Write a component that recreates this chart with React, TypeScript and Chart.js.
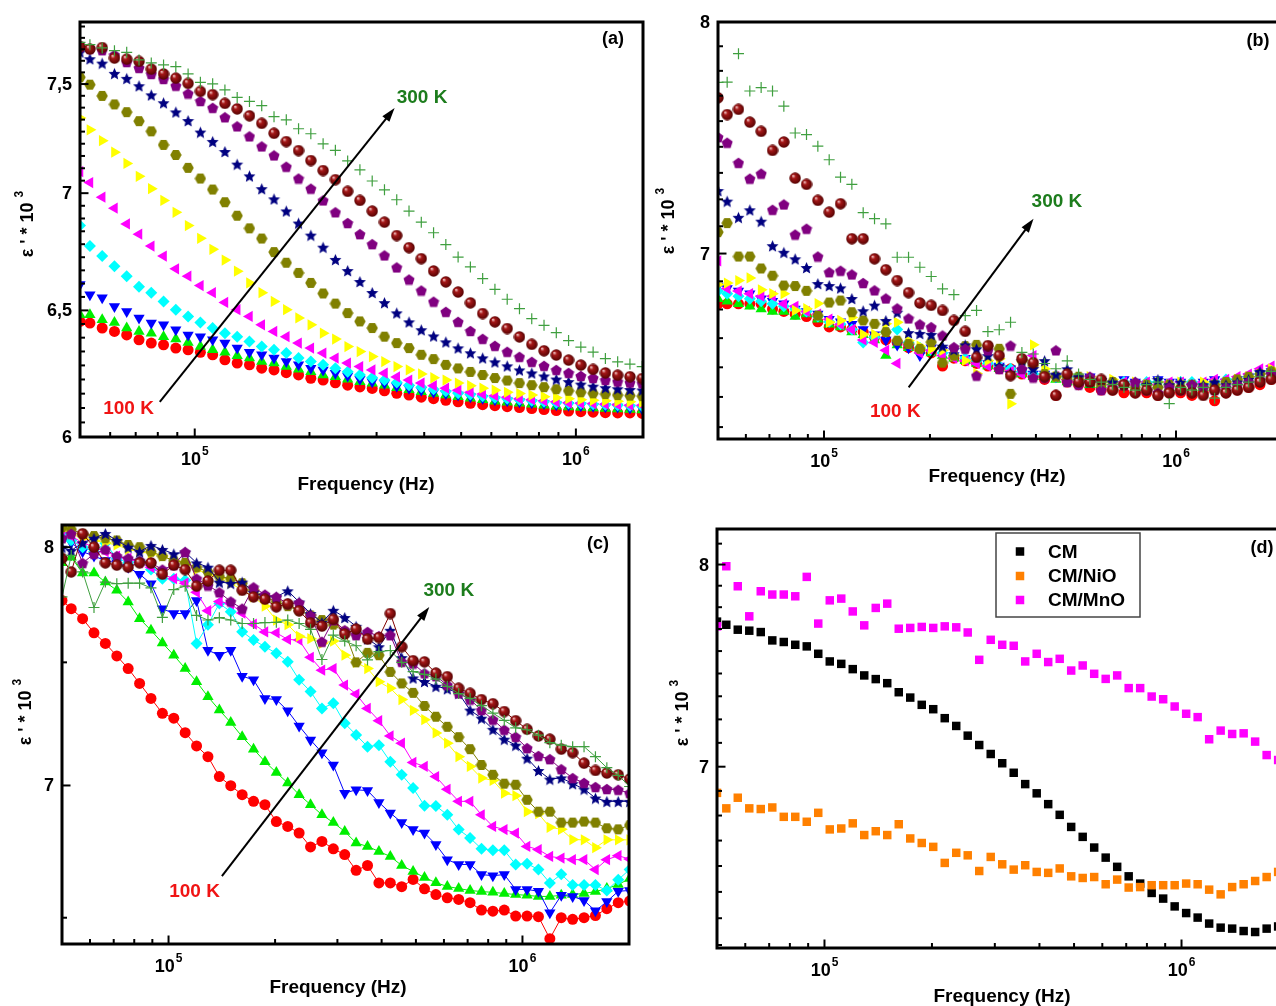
import React, { useEffect, useRef } from 'react';
import { Chart, registerables } from 'chart.js';

Chart.register(...registerables);

// ---------------- data ----------------
const FREQ = [50000, 53090, 57170, 61570, 66300, 71420, 76910, 82830, 89200, 96070,
  103470, 111430, 120000, 129230, 139180, 149890, 161440, 173860, 187240, 201650,
  217170, 233880, 251890, 271270, 292150, 314640, 338840, 364920, 393010, 423260,
  455840, 490900, 528690, 569390, 613210, 660400, 711230, 765970, 824920, 888420,
  956780, 1030400, 1109700, 1195100, 1287100, 1386200, 1492800, 1607700, 1731500, 1864700,
  2008200];

const TEMPS = ['100 K', '120 K', '140 K', '160 K', '180 K', '200 K', '220 K', '240 K', '260 K', '280 K', '300 K'];
const SAMPLES = ['CM', 'CM/NiO', 'CM/MnO'];

// panel (a)
const A100 = [6.455, 6.448, 6.428, 6.414, 6.400, 6.380, 6.367, 6.360, 6.347, 6.340, 6.330, 6.320, 6.300, 6.287, 6.280, 6.267, 6.260, 6.249, 6.240, 6.227, 6.220, 6.209, 6.200, 6.193, 6.187, 6.178, 6.168, 6.161, 6.153, 6.147, 6.141, 6.135, 6.129, 6.124, 6.120, 6.116, 6.113, 6.109, 6.105, 6.101, 6.099, 6.097, 6.095, 6.093, 6.092, 6.092, 6.090];
const A120 = [6.482, 6.482, 6.462, 6.450, 6.428, 6.414, 6.407, 6.393, 6.383, 6.369, 6.353, 6.340, 6.330, 6.316, 6.307, 6.293, 6.287, 6.273, 6.263, 6.253, 6.240, 6.233, 6.223, 6.213, 6.207, 6.200, 6.190, 6.182, 6.174, 6.167, 6.161, 6.155, 6.149, 6.143, 6.137, 6.133, 6.129, 6.126, 6.122, 6.118, 6.115, 6.113, 6.111, 6.109, 6.107, 6.105, 6.103];
const A140 = [6.607, 6.565, 6.552, 6.516, 6.495, 6.469, 6.448, 6.441, 6.421, 6.400, 6.393, 6.380, 6.367, 6.347, 6.330, 6.320, 6.307, 6.293, 6.280, 6.267, 6.260, 6.247, 6.236, 6.223, 6.213, 6.207, 6.196, 6.188, 6.180, 6.172, 6.167, 6.161, 6.155, 6.149, 6.143, 6.139, 6.135, 6.131, 6.128, 6.124, 6.122, 6.120, 6.118, 6.116, 6.115, 6.111, 6.107];
const A160 = [6.858, 6.770, 6.727, 6.684, 6.642, 6.598, 6.573, 6.537, 6.503, 6.475, 6.450, 6.428, 6.407, 6.393, 6.373, 6.353, 6.340, 6.327, 6.307, 6.293, 6.280, 6.267, 6.253, 6.240, 6.229, 6.220, 6.210, 6.200, 6.192, 6.184, 6.176, 6.168, 6.163, 6.157, 6.151, 6.147, 6.143, 6.139, 6.135, 6.131, 6.129, 6.128, 6.126, 6.124, 6.122, 6.120, 6.118];
const A180 = [7.096, 7.047, 6.982, 6.934, 6.865, 6.821, 6.770, 6.727, 6.673, 6.642, 6.603, 6.573, 6.533, 6.503, 6.475, 6.441, 6.414, 6.393, 6.367, 6.347, 6.327, 6.307, 6.287, 6.273, 6.260, 6.247, 6.232, 6.220, 6.208, 6.198, 6.188, 6.180, 6.172, 6.165, 6.159, 6.153, 6.147, 6.143, 6.139, 6.135, 6.131, 6.129, 6.128, 6.126, 6.124, 6.122, 6.122];
const A200 = [7.341, 7.286, 7.236, 7.184, 7.133, 7.075, 7.020, 6.968, 6.916, 6.858, 6.803, 6.756, 6.710, 6.663, 6.614, 6.573, 6.537, 6.503, 6.469, 6.441, 6.407, 6.383, 6.353, 6.333, 6.313, 6.293, 6.273, 6.260, 6.244, 6.229, 6.220, 6.208, 6.198, 6.188, 6.180, 6.172, 6.167, 6.161, 6.155, 6.151, 6.147, 6.143, 6.141, 6.139, 6.137, 6.135, 6.133];
const A220 = [7.532, 7.497, 7.444, 7.404, 7.368, 7.326, 7.279, 7.217, 7.171, 7.113, 7.065, 7.016, 6.960, 6.901, 6.846, 6.802, 6.744, 6.699, 6.656, 6.614, 6.570, 6.528, 6.489, 6.455, 6.428, 6.393, 6.367, 6.347, 6.320, 6.303, 6.280, 6.266, 6.252, 6.240, 6.228, 6.218, 6.208, 6.200, 6.192, 6.184, 6.178, 6.172, 6.168, 6.165, 6.161, 6.159, 6.157];
const A240 = [7.654, 7.621, 7.600, 7.551, 7.527, 7.492, 7.449, 7.412, 7.369, 7.329, 7.276, 7.233, 7.187, 7.130, 7.077, 7.020, 6.975, 6.922, 6.869, 6.817, 6.765, 6.713, 6.666, 6.620, 6.574, 6.532, 6.490, 6.453, 6.421, 6.396, 6.372, 6.348, 6.328, 6.308, 6.292, 6.276, 6.260, 6.248, 6.236, 6.224, 6.214, 6.204, 6.196, 6.190, 6.186, 6.183, 6.181];
const A260 = [7.678, 7.670, 7.662, 7.639, 7.605, 7.577, 7.548, 7.524, 7.492, 7.455, 7.420, 7.388, 7.344, 7.302, 7.256, 7.210, 7.169, 7.118, 7.065, 7.020, 6.968, 6.916, 6.869, 6.821, 6.778, 6.730, 6.679, 6.628, 6.582, 6.536, 6.494, 6.453, 6.416, 6.384, 6.356, 6.332, 6.312, 6.292, 6.276, 6.260, 6.248, 6.236, 6.228, 6.220, 6.214, 6.210, 6.207];
const A280 = [7.680, 7.668, 7.675, 7.624, 7.619, 7.608, 7.571, 7.548, 7.528, 7.503, 7.465, 7.450, 7.409, 7.383, 7.351, 7.316, 7.270, 7.232, 7.191, 7.146, 7.101, 7.060, 7.008, 6.968, 6.921, 6.873, 6.815, 6.763, 6.716, 6.664, 6.618, 6.576, 6.531, 6.487, 6.453, 6.426, 6.392, 6.362, 6.336, 6.319, 6.299, 6.279, 6.262, 6.248, 6.239, 6.233, 6.226];
const A300 = [7.700, 7.689, 7.673, 7.660, 7.652, 7.615, 7.601, 7.591, 7.583, 7.548, 7.508, 7.501, 7.472, 7.437, 7.418, 7.398, 7.347, 7.332, 7.291, 7.268, 7.222, 7.192, 7.144, 7.104, 7.054, 7.015, 6.971, 6.921, 6.873, 6.827, 6.776, 6.723, 6.681, 6.632, 6.587, 6.546, 6.507, 6.466, 6.439, 6.409, 6.377, 6.351, 6.331, 6.305, 6.292, 6.283, 6.273];

// panel (b)
const B100 = [6.80, 6.80, 6.80, 6.80, 6.80, 6.78, 6.77, 6.76, 6.75, 6.73, 6.71, 6.71, 6.70, 6.69, 6.67, 6.66, 6.65, 6.63, 6.62, 6.61, 6.56, 6.59, 6.58, 6.57, 6.56, 6.55, 6.55, 6.53, 6.52, 6.51, 6.45, 6.50, 6.49, 6.48, 6.47, 6.47, 6.46, 6.46, 6.46, 6.45, 6.46, 6.46, 6.45, 6.46, 6.43, 6.46, 6.47, 6.48, 6.49, 6.51, 6.52];
const B120 = [6.82, 6.81, 6.80, 6.79, 6.78, 6.77, 6.77, 6.75, 6.76, 6.74, 6.72, 6.71, 6.69, 6.68, 6.66, 6.60, 6.64, 6.63, 6.62, 6.61, 6.60, 6.59, 6.58, 6.57, 6.56, 6.55, 6.54, 6.53, 6.52, 6.52, 6.51, 6.50, 6.50, 6.49, 6.49, 6.48, 6.49, 6.48, 6.48, 6.49, 6.48, 6.49, 6.48, 6.48, 6.49, 6.49, 6.50, 6.51, 6.52, 6.53, 6.54];
const B140 = [6.87, 6.86, 6.85, 6.84, 6.82, 6.81, 6.80, 6.78, 6.77, 6.76, 6.74, 6.73, 6.72, 6.70, 6.68, 6.66, 6.64, 6.63, 6.60, 6.63, 6.62, 6.60, 6.59, 6.58, 6.57, 6.56, 6.55, 6.54, 6.53, 6.53, 6.52, 6.51, 6.51, 6.52, 6.50, 6.49, 6.51, 6.50, 6.49, 6.51, 6.50, 6.50, 6.49, 6.50, 6.51, 6.50, 6.51, 6.52, 6.53, 6.54, 6.55];
const B160 = [6.85, 6.84, 6.83, 6.82, 6.81, 6.80, 6.79, 6.78, 6.77, 6.75, 6.73, 6.72, 6.70, 6.65, 6.67, 6.69, 6.70, 6.65, 6.63, 6.62, 6.61, 6.60, 6.59, 6.58, 6.57, 6.56, 6.55, 6.54, 6.53, 6.53, 6.52, 6.52, 6.51, 6.51, 6.50, 6.50, 6.50, 6.49, 6.50, 6.50, 6.49, 6.50, 6.50, 6.49, 6.50, 6.51, 6.51, 6.52, 6.53, 6.54, 6.55];
const B180 = [6.97, 6.86, 6.85, 6.84, 6.83, 6.83, 6.80, 6.79, 6.77, 6.76, 6.74, 6.72, 6.70, 6.66, 6.65, 6.62, 6.57, 6.64, 6.61, 6.62, 6.60, 6.59, 6.58, 6.57, 6.56, 6.55, 6.54, 6.53, 6.60, 6.52, 6.52, 6.51, 6.50, 6.51, 6.50, 6.49, 6.50, 6.49, 6.50, 6.49, 6.50, 6.50, 6.49, 6.50, 6.51, 6.51, 6.52, 6.53, 6.55, 6.56, 6.58];
const B200 = [6.876, 6.882, 6.892, 6.902, 6.855, 6.840, 6.840, 6.774, 6.781, 6.801, 6.728, 6.735, 6.747, 6.681, 6.681, 6.722, 6.728, 6.657, 6.636, 6.626, 6.620, 6.600, 6.581, 6.532, 6.581, 6.588, 6.419, 6.581, 6.641, 6.55, 6.52, 6.53, 6.51, 6.52, 6.50, 6.51, 6.49, 6.50, 6.49, 6.50, 6.49, 6.50, 6.49, 6.50, 6.49, 6.50, 6.51, 6.52, 6.53, 6.55, 6.56];
const B220 = [7.087, 7.124, 6.988, 6.988, 6.940, 6.911, 6.872, 6.870, 6.851, 6.754, 6.805, 6.813, 6.767, 6.735, 6.722, 6.690, 6.657, 6.644, 6.626, 6.651, 6.573, 6.600, 6.636, 6.641, 6.636, 6.626, 6.456, 6.581, 6.562, 6.53, 6.52, 6.51, 6.52, 6.50, 6.49, 6.50, 6.49, 6.48, 6.49, 6.48, 6.49, 6.48, 6.49, 6.48, 6.49, 6.50, 6.51, 6.52, 6.53, 6.54, 6.56];
const B240 = [7.259, 7.215, 7.148, 7.179, 7.132, 7.032, 7.005, 6.979, 6.944, 6.880, 6.872, 6.863, 6.821, 6.773, 6.795, 6.735, 6.767, 6.688, 6.685, 6.681, 6.636, 6.623, 6.641, 6.626, 6.600, 6.562, 6.535, 6.581, 6.551, 6.581, 6.53, 6.55, 6.52, 6.50, 6.51, 6.50, 6.49, 6.50, 6.49, 6.51, 6.49, 6.50, 6.49, 6.49, 6.50, 6.49, 6.50, 6.51, 6.54, 6.53, 6.55];
const B260 = [7.486, 7.462, 7.376, 7.309, 7.330, 7.179, 7.201, 7.077, 7.101, 6.988, 6.925, 6.931, 6.916, 6.882, 6.853, 6.821, 6.782, 6.743, 6.720, 6.709, 6.677, 6.632, 6.626, 6.524, 6.620, 6.549, 6.638, 6.549, 6.517, 6.517, 6.620, 6.50, 6.49, 6.52, 6.47, 6.48, 6.49, 6.50, 6.47, 6.46, 6.48, 6.47, 6.49, 6.48, 6.47, 6.48, 6.49, 6.50, 6.51, 6.53, 6.55];
const B280 = [7.658, 7.584, 7.607, 7.551, 7.511, 7.429, 7.465, 7.311, 7.285, 7.218, 7.169, 7.204, 7.060, 7.060, 6.979, 6.935, 6.892, 6.844, 6.803, 6.794, 6.774, 6.735, 6.693, 6.593, 6.638, 6.600, 6.524, 6.588, 6.573, 6.52, 6.45, 6.53, 6.50, 6.50, 6.51, 6.47, 6.49, 6.46, 6.47, 6.45, 6.46, 6.47, 6.46, 6.45, 6.47, 6.46, 6.47, 6.48, 6.50, 6.51, 6.53];
const B300 = [7.726, 7.727, 7.855, 7.688, 7.703, 7.688, 7.621, 7.504, 7.497, 7.447, 7.389, 7.315, 7.285, 7.167, 7.142, 7.121, 6.985, 6.985, 6.945, 6.908, 6.859, 6.836, 6.754, 6.774, 6.692, 6.699, 6.728, 6.612, 6.606, 6.57, 6.55, 6.58, 6.53, 6.51, 6.50, 6.49, 6.48, 6.47, 6.49, 6.50, 6.42, 6.48, 6.47, 6.48, 6.44, 6.48, 6.49, 6.50, 6.52, 6.54, 6.55];

// panel (c)
const C100 = [7.765, 7.729, 7.686, 7.625, 7.580, 7.527, 7.474, 7.412, 7.350, 7.289, 7.269, 7.210, 7.157, 7.114, 7.035, 6.999, 6.964, 6.938, 6.925, 6.860, 6.841, 6.816, 6.763, 6.784, 6.756, 6.734, 6.675, 6.693, 6.628, 6.628, 6.614, 6.641, 6.606, 6.585, 6.573, 6.567, 6.555, 6.528, 6.524, 6.528, 6.506, 6.506, 6.504, 6.424, 6.500, 6.494, 6.500, 6.508, 6.533, 6.555, 6.561];
const C120 = [7.930, 7.955, 7.885, 7.885, 7.845, 7.809, 7.758, 7.686, 7.636, 7.582, 7.530, 7.474, 7.419, 7.357, 7.302, 7.251, 7.194, 7.144, 7.094, 7.051, 7.010, 6.964, 6.925, 6.886, 6.856, 6.822, 6.778, 6.765, 6.746, 6.727, 6.693, 6.671, 6.648, 6.629, 6.615, 6.607, 6.600, 6.596, 6.593, 6.589, 6.585, 6.582, 6.578, 6.578, 6.582, 6.585, 6.589, 6.596, 6.607, 6.622, 6.644];
const C140 = [8.050, 8.020, 7.980, 7.960, 7.940, 7.930, 7.910, 7.880, 7.838, 7.729, 7.708, 7.708, 7.765, 7.551, 7.530, 7.551, 7.442, 7.427, 7.350, 7.345, 7.299, 7.237, 7.181, 7.130, 7.081, 6.970, 6.983, 6.980, 6.934, 6.893, 6.856, 6.829, 6.816, 6.772, 6.715, 6.697, 6.697, 6.659, 6.655, 6.659, 6.604, 6.604, 6.597, 6.518, 6.582, 6.578, 6.563, 6.525, 6.559, 6.597, 6.600];
const C160 = [8.060, 8.030, 8.000, 7.980, 8.018, 7.950, 7.930, 7.940, 7.900, 7.860, 7.860, 7.853, 7.580, 7.660, 7.751, 7.716, 7.630, 7.594, 7.566, 7.538, 7.502, 7.427, 7.378, 7.309, 7.330, 7.248, 7.201, 7.154, 7.160, 7.094, 7.042, 6.990, 6.921, 6.920, 6.886, 6.829, 6.797, 6.756, 6.750, 6.750, 6.697, 6.700, 6.678, 6.628, 6.660, 6.620, 6.620, 6.620, 6.600, 6.640, 6.678];
const C180 = [8.080, 8.050, 8.020, 8.000, 7.980, 7.960, 7.950, 7.930, 7.910, 7.880, 7.860, 7.840, 7.800, 7.720, 7.760, 7.750, 7.710, 7.662, 7.629, 7.625, 7.597, 7.594, 7.521, 7.467, 7.474, 7.405, 7.368, 7.309, 7.259, 7.197, 7.168, 7.091, 7.075, 7.035, 6.985, 6.938, 6.938, 6.886, 6.841, 6.829, 6.816, 6.765, 6.753, 6.727, 6.721, 6.715, 6.715, 6.678, 6.715, 6.730, 6.717];
const C200 = [8.080, 8.060, 8.040, 8.030, 8.020, 8.010, 7.990, 7.980, 7.970, 7.960, 7.940, 7.930, 7.900, 7.880, 7.860, 7.840, 7.810, 7.780, 7.740, 7.680, 7.660, 7.610, 7.600, 7.580, 7.590, 7.530, 7.500, 7.474, 7.419, 7.392, 7.345, 7.301, 7.263, 7.209, 7.168, 7.114, 7.075, 7.029, 7.020, 6.970, 6.960, 6.898, 6.890, 6.838, 6.830, 6.791, 6.790, 6.760, 6.790, 6.790, 6.790];
const C220 = [8.090, 8.080, 8.060, 8.050, 8.040, 8.030, 8.010, 8.000, 7.980, 7.960, 7.940, 7.930, 7.910, 7.890, 7.870, 7.860, 7.840, 7.810, 7.780, 7.760, 7.740, 7.720, 7.700, 7.680, 7.660, 7.630, 7.500, 7.540, 7.530, 7.460, 7.412, 7.373, 7.319, 7.275, 7.234, 7.192, 7.144, 7.081, 7.042, 7.007, 7.003, 6.944, 6.898, 6.898, 6.856, 6.856, 6.860, 6.856, 6.834, 6.830, 6.846];
const C240 = [8.000, 7.985, 8.020, 8.040, 8.062, 8.030, 8.000, 7.980, 8.008, 7.990, 7.970, 7.978, 7.930, 7.911, 7.845, 7.840, 7.845, 7.800, 7.781, 7.780, 7.807, 7.758, 7.708, 7.670, 7.722, 7.691, 7.653, 7.600, 7.566, 7.636, 7.520, 7.435, 7.420, 7.400, 7.390, 7.371, 7.302, 7.269, 7.224, 7.184, 7.160, 7.108, 7.059, 7.025, 7.030, 7.007, 6.986, 6.951, 6.938, 6.938, 6.938];
const C260 = [8.040, 8.060, 7.929, 7.970, 7.990, 7.960, 7.950, 7.940, 7.930, 7.900, 7.920, 7.978, 7.860, 7.830, 7.800, 7.760, 7.729, 7.822, 7.790, 7.780, 7.751, 7.754, 7.699, 7.587, 7.679, 7.636, 7.615, 7.629, 7.611, 7.615, 7.502, 7.495, 7.454, 7.442, 7.405, 7.371, 7.345, 7.302, 7.263, 7.222, 7.193, 7.148, 7.117, 7.104, 7.064, 7.029, 7.010, 6.994, 6.986, 6.983, 6.970];
const C280 = [7.950, 7.890, 8.060, 8.000, 7.930, 7.920, 7.911, 7.930, 7.930, 7.880, 7.920, 7.900, 7.827, 7.850, 7.897, 7.897, 7.809, 7.780, 7.770, 7.737, 7.750, 7.720, 7.668, 7.654, 7.683, 7.620, 7.641, 7.598, 7.605, 7.708, 7.566, 7.507, 7.502, 7.455, 7.440, 7.392, 7.371, 7.345, 7.328, 7.296, 7.259, 7.224, 7.197, 7.184, 7.144, 7.130, 7.088, 7.059, 7.049, 7.042, 7.025];
const C300 = [7.780, 7.963, 7.890, 7.734, 7.845, 7.838, 7.840, 7.840, 7.820, 7.691, 7.812, 7.827, 7.700, 7.680, 7.690, 7.680, 7.665, 7.665, 7.669, 7.670, 7.680, 7.665, 7.640, 7.512, 7.615, 7.590, 7.570, 7.510, 7.545, 7.550, 7.500, 7.461, 7.450, 7.430, 7.400, 7.370, 7.350, 7.320, 7.290, 7.260, 7.230, 7.222, 7.200, 7.170, 7.160, 7.154, 7.154, 7.114, 7.070, 7.040, 6.996];

// panel (d)
const D_CM = [7.704, 7.688, 7.663, 7.658, 7.651, 7.609, 7.601, 7.587, 7.579, 7.542, 7.504, 7.492, 7.466, 7.435, 7.417, 7.397, 7.353, 7.327, 7.292, 7.271, 7.228, 7.191, 7.145, 7.101, 7.059, 7.016, 6.972, 6.920, 6.878, 6.829, 6.781, 6.727, 6.683, 6.636, 6.592, 6.552, 6.511, 6.480, 6.440, 6.416, 6.383, 6.355, 6.336, 6.311, 6.294, 6.290, 6.280, 6.276, 6.290, 6.299, 6.303];
const D_NIO = [6.880, 6.810, 6.858, 6.810, 6.807, 6.814, 6.772, 6.772, 6.750, 6.790, 6.716, 6.720, 6.743, 6.691, 6.708, 6.691, 6.739, 6.676, 6.656, 6.639, 6.569, 6.613, 6.602, 6.534, 6.595, 6.563, 6.540, 6.559, 6.530, 6.526, 6.545, 6.511, 6.504, 6.508, 6.477, 6.497, 6.463, 6.465, 6.473, 6.473, 6.473, 6.480, 6.477, 6.454, 6.434, 6.465, 6.477, 6.491, 6.508, 6.530, 6.546];
const D_MNO = [7.680, 7.991, 7.886, 7.731, 7.860, 7.843, 7.843, 7.834, 7.935, 7.694, 7.813, 7.822, 7.756, 7.685, 7.774, 7.796, 7.668, 7.672, 7.677, 7.672, 7.680, 7.675, 7.649, 7.512, 7.612, 7.587, 7.582, 7.504, 7.542, 7.501, 7.517, 7.459, 7.484, 7.443, 7.418, 7.435, 7.373, 7.373, 7.332, 7.319, 7.284, 7.249, 7.233, 7.128, 7.169, 7.153, 7.156, 7.117, 7.054, 7.031, 7.022];

// annotation anchor points (frequency, eps)
const ARROW_A = { from: [80970, 6.135], to: [334500, 7.387], hot: [394800, 7.435], cold: [67050, 6.107] };
const ARROW_B = { from: [174000, 6.480], to: [393800, 7.142], hot: [459000, 7.214], cold: [159400, 6.391] };
const ARROW_C = { from: [141500, 6.653], to: [545300, 7.736], hot: [619300, 7.807], cold: [118400, 6.596] };

// y tick labels
const Y_TICKS_A = [6, 6.5, 7, 7.5];
const Y_LABELS_A = ['6', '6,5', '7', '7,5'];
const Y_TICKS_78 = [7, 8];
const Y_LABELS_78 = ['7', '8'];

// ---------------- styling ----------------
const FONT = '"Liberation Sans", Arial, Helvetica, sans-serif';

const MARKS = [
  { c: '#ff0000', s: 'circle', r: 5.5, rot: 0 },
  { c: '#00ee00', s: 'triangle', r: 6.5, rot: 0 },
  { c: '#0000ff', s: 'triangle', r: 6.5, rot: 180 },
  { c: '#00ffff', s: 'rectRot', r: 6, rot: 0 },
  { c: '#ff00ff', s: 'triangle', r: 6.5, rot: 270 },
  { c: '#ffff00', s: 'triangle', r: 6.5, rot: 90 },
  { c: '#808000', s: 'hexagon', r: 6, rot: 0 },
  { c: '#000080', s: 'star', r: 6, rot: 0 },
  { c: '#800080', s: 'pentagon', r: 6, rot: 0 },
  { c: '#800000', s: 'sphere', r: 6, rot: 0 },
  { c: '#3f9f3f', s: 'cross', r: 5.5, rot: 0 },
];
const SAMPLE_COLORS = ['#000000', '#ff8000', '#ff00ff'];

function makeMarker(shape: string, color: string, size: number): HTMLCanvasElement {
  const c = document.createElement('canvas');
  c.width = size;
  c.height = size;
  const g = c.getContext('2d') as CanvasRenderingContext2D;
  const r = size / 2;
  g.translate(r, r);
  if (shape === 'sphere') {
    const grad = g.createRadialGradient(-r * 0.35, -r * 0.4, r * 0.05, 0, 0, r);
    grad.addColorStop(0, '#f4caca');
    grad.addColorStop(0.3, '#a51818');
    grad.addColorStop(1, '#500000');
    g.fillStyle = grad;
    g.beginPath();
    g.arc(0, 0, r - 0.3, 0, Math.PI * 2);
    g.fill();
    return c;
  }
  g.fillStyle = color;
  g.beginPath();
  if (shape === 'hexagon') {
    for (let i = 0; i < 6; i++) {
      const a = (i * Math.PI) / 3;
      const px = Math.cos(a) * (r - 0.3), py = Math.sin(a) * (r - 0.3);
      if (i === 0) g.moveTo(px, py); else g.lineTo(px, py);
    }
  } else if (shape === 'pentagon') {
    for (let i = 0; i < 5; i++) {
      const a = -Math.PI / 2 + (i * 2 * Math.PI) / 5;
      const px = Math.cos(a) * (r - 0.2), py = Math.sin(a) * (r - 0.2) + 0.6;
      if (i === 0) g.moveTo(px, py); else g.lineTo(px, py);
    }
  } else if (shape === 'star') {
    for (let i = 0; i < 10; i++) {
      const rr = i % 2 ? r * 0.45 : r - 0.2;
      const a = -Math.PI / 2 + (i * Math.PI) / 5;
      const px = Math.cos(a) * rr, py = Math.sin(a) * rr + 0.8;
      if (i === 0) g.moveTo(px, py); else g.lineTo(px, py);
    }
  }
  g.closePath();
  g.fill();
  return c;
}

type Pt = number[];
interface PanelCfg {
  key: string;
  kind: 'temps' | 'samples';
  series: number[][];
  lines: boolean;
  pad: { left: number; top: number; right: number; bottom: number };
  xMin: number; xMax: number; yMin: number; yMax: number;
  yTicks: number[]; yLabels: string[]; yMinorPer: number;
  tag: string; tagPos: Pt;
  xTitle: Pt; yTitle: Pt;
  arrow?: { from: Pt; to: Pt; hot: Pt; cold: Pt };
  legend?: { box: number[]; rows: number[]; markX: number; textX: number };
}

const W = 1300, H = 1006;

const PANELS: PanelCfg[] = [
  {
    key: 'a', kind: 'temps', lines: false,
    series: [A100, A120, A140, A160, A180, A200, A220, A240, A260, A280, A300],
    pad: { left: 80, top: 22, right: W - 643, bottom: H - 437 },
    xMin: 50000, xMax: 1500000, yMin: 6, yMax: 7.8,
    yTicks: Y_TICKS_A, yLabels: Y_LABELS_A, yMinorPer: 8,
    tag: '(a)', tagPos: [613, 44], xTitle: [366, 490], yTitle: [33, 224],
    arrow: ARROW_A,
  },
  {
    key: 'b', kind: 'temps', lines: false,
    series: [B100, B120, B140, B160, B180, B200, B220, B240, B260, B280, B300],
    pad: { left: 718, top: 22, right: W - 1282, bottom: H - 439 },
    xMin: 50000, xMax: 2000000, yMin: 6.29, yMax: 8.0,
    yTicks: Y_TICKS_78, yLabels: Y_LABELS_78, yMinorPer: 8,
    tag: '(b)', tagPos: [1258, 46], xTitle: [997, 482], yTitle: [674, 221],
    arrow: ARROW_B,
  },
  {
    key: 'c', kind: 'temps', lines: true,
    series: [C100, C120, C140, C160, C180, C200, C220, C240, C260, C280, C300],
    pad: { left: 62, top: 525, right: W - 629, bottom: H - 944 },
    xMin: 50000, xMax: 2000000, yMin: 6.405, yMax: 8.1,
    yTicks: Y_TICKS_78, yLabels: Y_LABELS_78, yMinorPer: 1,
    tag: '(c)', tagPos: [598, 549], xTitle: [338, 993], yTitle: [31, 712],
    arrow: ARROW_C,
  },
  {
    key: 'd', kind: 'samples', lines: false,
    series: [D_CM, D_NIO, D_MNO],
    pad: { left: 717, top: 529, right: W - 1289, bottom: H - 948 },
    xMin: 50000, xMax: 2000000, yMin: 6.21, yMax: 8.19,
    yTicks: Y_TICKS_78, yLabels: Y_LABELS_78, yMinorPer: 8,
    tag: '(d)', tagPos: [1262, 553], xTitle: [1002, 1002], yTitle: [688, 713],
    legend: { box: [996, 533, 1140, 617], rows: [551.5, 576, 600], markX: 1020, textX: 1048 },
  },
];

function buildDatasets(cfg: PanelCfg) {
  const n = cfg.series.length;
  return cfg.series.map((vals, i) => {
    const data = vals.map((v, k) => ({ x: FREQ[k], y: v }));
    if (cfg.kind === 'samples') {
      const col = SAMPLE_COLORS[i];
      return {
        label: SAMPLES[i], data, showLine: false, clip: 0,
        pointStyle: 'rect', pointRadius: 6, pointBorderWidth: 0,
        pointBackgroundColor: col, pointBorderColor: col, backgroundColor: col, borderColor: col,
        order: n - i,
      };
    }
    const m = MARKS[i];
    const custom = ['hexagon', 'star', 'pentagon', 'sphere'].includes(m.s);
    const style: any = custom ? makeMarker(m.s, m.c, m.s === 'star' ? 13 : 12) : m.s;
    return {
      label: TEMPS[i], data, showLine: cfg.lines, clip: 0,
      borderColor: m.c, backgroundColor: m.c, borderWidth: 1,
      pointStyle: style, pointRotation: m.rot, pointRadius: m.r,
      pointBorderWidth: m.s === 'cross' ? 1.2 : 0,
      pointBackgroundColor: m.c, pointBorderColor: m.c,
      order: n - i,
    };
  });
}

function decor(cfg: PanelCfg) {
  return {
    id: 'decor_' + cfg.key,
    afterDatasetsDraw(chart: any) {
      const ctx: CanvasRenderingContext2D = chart.ctx;
      const ca = chart.chartArea;
      const xs = chart.scales.x, ys = chart.scales.y;
      const line = (x1: number, y1: number, x2: number, y2: number) => {
        ctx.beginPath(); ctx.moveTo(x1, y1); ctx.lineTo(x2, y2); ctx.stroke();
      };
      ctx.save();

      // arrow annotation
      if (cfg.arrow) {
        const a = cfg.arrow;
        const x1 = xs.getPixelForValue(a.from[0]), y1 = ys.getPixelForValue(a.from[1]);
        const x2 = xs.getPixelForValue(a.to[0]), y2 = ys.getPixelForValue(a.to[1]);
        const ang = Math.atan2(y2 - y1, x2 - x1);
        const head = 14, hw = 4.5;
        const bx = x2 - head * Math.cos(ang), by = y2 - head * Math.sin(ang);
        ctx.strokeStyle = '#000'; ctx.fillStyle = '#000'; ctx.lineWidth = 2;
        line(x1, y1, bx + 2 * Math.cos(ang), by + 2 * Math.sin(ang));
        ctx.beginPath();
        ctx.moveTo(x2, y2);
        ctx.lineTo(bx + hw * Math.sin(ang), by - hw * Math.cos(ang));
        ctx.lineTo(bx - hw * Math.sin(ang), by + hw * Math.cos(ang));
        ctx.closePath(); ctx.fill();
        ctx.font = `bold 19px ${FONT}`;
        ctx.textAlign = 'center'; ctx.textBaseline = 'middle';
        ctx.fillStyle = '#1c7c1c';
        ctx.fillText('300 K', xs.getPixelForValue(a.hot[0]), ys.getPixelForValue(a.hot[1]));
        ctx.fillStyle = '#f01414';
        ctx.fillText('100 K', xs.getPixelForValue(a.cold[0]), ys.getPixelForValue(a.cold[1]));
      }

      // legend
      if (cfg.legend) {
        const L = cfg.legend;
        ctx.strokeStyle = '#444'; ctx.lineWidth = 1.5;
        ctx.strokeRect(L.box[0], L.box[1], L.box[2] - L.box[0], L.box[3] - L.box[1]);
        ctx.font = `bold 19px ${FONT}`;
        ctx.textAlign = 'left'; ctx.textBaseline = 'middle';
        L.rows.forEach((ry, i) => {
          ctx.fillStyle = SAMPLE_COLORS[i];
          ctx.fillRect(L.markX - 4.25, ry - 4.25, 8.5, 8.5);
          ctx.fillStyle = '#000';
          ctx.fillText(SAMPLES[i], L.textX, ry + 1);
        });
      }

      // frame
      ctx.strokeStyle = '#000'; ctx.lineWidth = 3;
      ctx.strokeRect(ca.left, ca.top, ca.right - ca.left, ca.bottom - ca.top);

      // x ticks (inward) + labels
      ctx.lineWidth = 2;
      for (let d = 4; d <= 6; d++) {
        for (let m = 1; m <= 9; m++) {
          const v = m * Math.pow(10, d);
          if (v <= cfg.xMin * 1.002 || v >= cfg.xMax * 0.998) continue;
          const px = xs.getPixelForValue(v);
          line(px, ca.bottom, px, ca.bottom - (m === 1 ? 8.5 : 5));
          if (m === 1) {
            ctx.fillStyle = '#000';
            ctx.font = `bold 18px ${FONT}`;
            const w10 = ctx.measureText('10').width;
            ctx.font = `bold 12px ${FONT}`;
            const sup = String(d);
            const ws = ctx.measureText(sup).width;
            const start = px - (w10 + 1 + ws) / 2;
            ctx.textAlign = 'left'; ctx.textBaseline = 'alphabetic';
            ctx.font = `bold 18px ${FONT}`;
            ctx.fillText('10', start, ca.bottom + 28);
            ctx.font = `bold 12px ${FONT}`;
            ctx.fillText(sup, start + w10 + 1, ca.bottom + 18);
          }
        }
      }

      // y ticks (inward) + labels
      const t0 = cfg.yTicks[0];
      const step = (cfg.yTicks[1] - cfg.yTicks[0]) / (cfg.yMinorPer + 1);
      for (let j = -60; j <= 60; j++) {
        const v = t0 + j * step;
        if (v < cfg.yMin - 1e-9 || v > cfg.yMax + 1e-9) continue;
        const py = ys.getPixelForValue(v);
        const major = j % (cfg.yMinorPer + 1) === 0;
        if (Math.abs(py - ca.top) > 1.5 && Math.abs(py - ca.bottom) > 1.5) {
          line(ca.left, py, ca.left + (major ? 8.5 : 5), py);
        }
      }
      ctx.fillStyle = '#000';
      ctx.font = `bold 18px ${FONT}`;
      ctx.textAlign = 'right'; ctx.textBaseline = 'middle';
      cfg.yTicks.forEach((v, i) => {
        ctx.fillText(cfg.yLabels[i], ca.left - 8, ys.getPixelForValue(v) + 1);
      });

      // panel tag
      ctx.textAlign = 'center'; ctx.textBaseline = 'alphabetic';
      ctx.font = `bold 18px ${FONT}`;
      ctx.fillText(cfg.tag, cfg.tagPos[0], cfg.tagPos[1]);

      // x title
      ctx.font = `bold 19px ${FONT}`;
      ctx.fillText('Frequency (Hz)', cfg.xTitle[0], cfg.xTitle[1]);

      // y title (rotated)
      ctx.save();
      ctx.translate(cfg.yTitle[0], cfg.yTitle[1]);
      ctx.rotate(-Math.PI / 2);
      const main = "\u03b5 ' * 10";
      ctx.font = `bold 18px ${FONT}`;
      const wm = ctx.measureText(main).width;
      ctx.font = `bold 12px ${FONT}`;
      const ws3 = ctx.measureText('3').width;
      const total = wm + 5 + ws3;
      ctx.textAlign = 'left';
      ctx.font = `bold 18px ${FONT}`;
      ctx.fillText(main, -total / 2, 0);
      ctx.font = `bold 12px ${FONT}`;
      ctx.fillText('3', -total / 2 + wm + 5, -10);
      ctx.restore();

      ctx.restore();
    },
  };
}

function Panel({ cfg }: { cfg: PanelCfg }) {
  const ref = useRef<HTMLCanvasElement>(null);
  useEffect(() => {
    const canvas = ref.current;
    if (!canvas) return;
    const chart = new Chart(canvas, {
      type: 'scatter',
      data: { datasets: buildDatasets(cfg) as any },
      options: {
        responsive: false,
        animation: false,
        devicePixelRatio: 1,
        events: [],
        layout: { padding: cfg.pad },
        plugins: { legend: { display: false }, tooltip: { enabled: false } },
        scales: {
          x: { type: 'logarithmic', min: cfg.xMin, max: cfg.xMax, display: false },
          y: { type: 'logarithmic', min: cfg.yMin, max: cfg.yMax, display: false },
        },
      } as any,
      plugins: [decor(cfg)],
    });
    return () => chart.destroy();
  }, [cfg]);
  return (
    <canvas
      ref={ref}
      width={W}
      height={H}
      style={{ position: 'absolute', left: 0, top: 0, width: W, height: H }}
    />
  );
}

export default function App() {
  return (
    <div style={{ position: 'fixed', left: 0, top: 0, width: 1276, height: 1006, overflow: 'hidden', background: '#fff' }}>
      {PANELS.map((p) => (
        <Panel key={p.key} cfg={p} />
      ))}
    </div>
  );
}
